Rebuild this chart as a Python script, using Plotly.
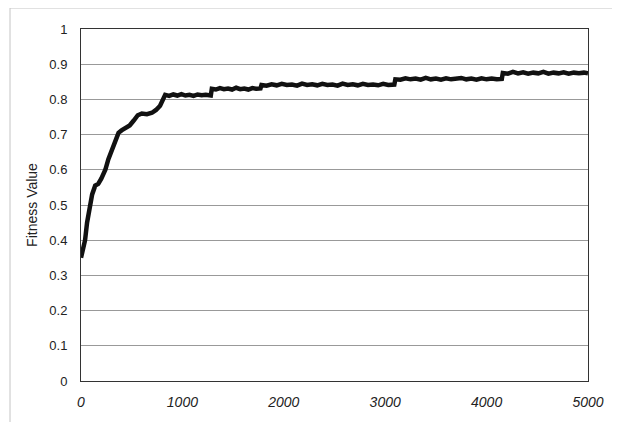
import plotly.graph_objects as go

generations = [0, 20, 40, 60, 90, 110, 140, 170, 200, 240, 270, 300, 340, 370, 400, 440, 480, 520,
               560, 600, 650, 700, 740, 780, 810,
               830, 870, 910, 950, 990, 1030, 1070, 1110, 1150, 1190, 1230, 1280,
               1290, 1330, 1370, 1410, 1450, 1490, 1530, 1570, 1610, 1650, 1690, 1730, 1770,
               1780, 1830, 1880, 1930, 1980, 2030, 2080, 2130, 2180, 2230, 2280, 2330, 2380, 2430,
               2480, 2530, 2580, 2630, 2680, 2730, 2780, 2830, 2880, 2930, 2980, 3030, 3090,
               3100, 3150, 3200, 3250, 3300, 3350, 3400, 3450, 3500, 3550, 3600, 3650, 3700,
               3750, 3800, 3850, 3900, 3950, 4000, 4050, 4100, 4150,
               4160, 4210, 4260, 4310, 4360, 4410, 4460, 4510, 4560, 4610, 4660, 4710, 4760,
               4810, 4860, 4910, 4960, 5000]
fitness = [0.35, 0.37, 0.40, 0.45, 0.505, 0.53, 0.555, 0.56, 0.575, 0.60, 0.63, 0.655, 0.68, 0.705, 0.712, 0.72, 0.726, 0.74,
           0.755, 0.76, 0.758, 0.762, 0.77, 0.782, 0.805,
           0.813, 0.810, 0.814, 0.811, 0.815, 0.811, 0.813, 0.810, 0.814, 0.812, 0.813, 0.811,
           0.830, 0.828, 0.832, 0.829, 0.831, 0.828, 0.833, 0.829, 0.831, 0.828, 0.832, 0.830, 0.831,
           0.841, 0.839, 0.843, 0.840, 0.844, 0.841, 0.842, 0.839, 0.845, 0.841, 0.843, 0.840, 0.844,
           0.841, 0.842, 0.839, 0.845, 0.841, 0.843, 0.840, 0.844, 0.841, 0.842, 0.840, 0.844, 0.841, 0.842,
           0.857, 0.856, 0.860, 0.857, 0.859, 0.856, 0.861, 0.857, 0.859, 0.856, 0.860, 0.857, 0.858,
           0.861, 0.857, 0.859, 0.856, 0.860, 0.857, 0.859, 0.857, 0.858,
           0.875, 0.873, 0.878, 0.874, 0.877, 0.873, 0.876, 0.874, 0.878, 0.873, 0.876, 0.874, 0.877,
           0.873, 0.876, 0.874, 0.876, 0.874]

x_ticks = [0, 1000, 2000, 3000, 4000, 5000]
y_ticks = [0, 0.1, 0.2, 0.3, 0.4, 0.5, 0.6, 0.7, 0.8, 0.9, 1]
y_tick_labels = ["0", "0.1", "0.2", "0.3", "0.4", "0.5", "0.6", "0.7", "0.8", "0.9", "1"]

fig = go.Figure()
fig.add_trace(go.Scatter(x=generations, y=fitness, mode="lines",
                         line=dict(color="#111111", width=4.5), showlegend=False))

# page body adds an 8px offset, so the figure is sized/margined to compensate
fig.update_layout(
    width=612, height=414,
    margin=dict(l=73, r=32, t=21, b=41),
    paper_bgcolor="white", plot_bgcolor="white",
    font=dict(family="Liberation Sans, Arial, sans-serif", color="#222222"),
    shapes=[dict(type="rect", xref="paper", yref="paper",
                 x0=-71 / 507, x1=537 / 507, y0=-60 / 352, y1=1 + 21 / 352,
                 line=dict(color="#c4c4c4", width=1), layer="below")],
)
fig.update_xaxes(range=[0, 5000], tickvals=x_ticks, ticktext=[str(v) for v in x_ticks],
                 showgrid=False, zeroline=False, showline=True, mirror=True,
                 linecolor="#333333", linewidth=1, ticks="",
                 tickfont=dict(size=14, family="Liberation Sans, Arial, sans-serif", style="italic"),
                 ticklabelstandoff=8)
fig.update_yaxes(range=[0, 1], tickvals=y_ticks, ticktext=y_tick_labels,
                 showgrid=True, gridcolor="#999999", gridwidth=1, zeroline=False,
                 showline=True, mirror=True, linecolor="#333333", linewidth=1, ticks="",
                 tickfont=dict(size=13), ticklabelstandoff=10,
                 title=dict(text="Fitness Value", font=dict(size=14), standoff=8))

fig.write_html("out.html")
